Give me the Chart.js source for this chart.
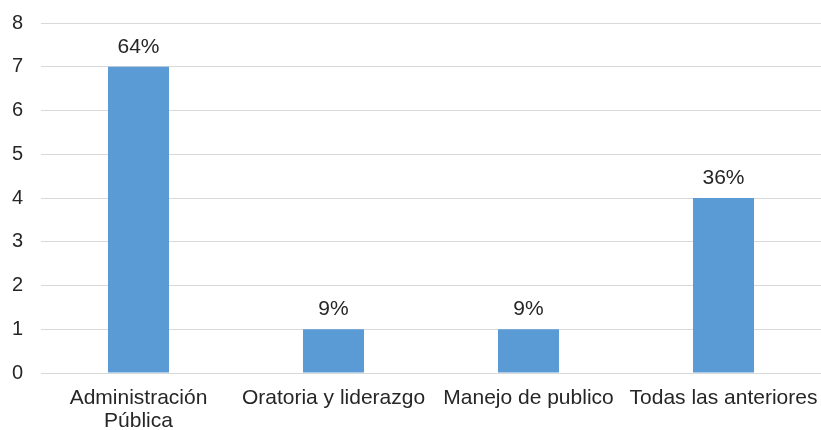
<!DOCTYPE html>
<html>
<head>
<meta charset="utf-8">
<script src="https://cdn.jsdelivr.net/npm/chart.js@4"></script>
<style>
html,body{margin:0;padding:0;background:#fff;}
#wrap{width:821px;height:430px;}
</style>
</head>
<body>
<div id="wrap"><canvas id="c" width="821" height="430"></canvas></div>
<script>
const categories = [["Administración", "Pública"], "Oratoria y liderazgo", "Manejo de publico", "Todas las anteriores"];
const values = [7, 1, 1, 4];
const percentLabels = ["64%", "9%", "9%", "36%"];
const yTicks = [0, 1, 2, 3, 4, 5, 6, 7, 8];

const FONT = "'Liberation Sans', Arial, sans-serif";
const TEXT = "#262626";

const valueLabelPlugin = {
  id: 'valueLabels',
  afterDatasetsDraw(chart) {
    const ctx = chart.ctx;
    const meta = chart.getDatasetMeta(0);
    ctx.save();
    ctx.font = "21px " + FONT;
    ctx.fillStyle = TEXT;
    ctx.textAlign = "center";
    ctx.textBaseline = "alphabetic";
    meta.data.forEach((bar, i) => {
      ctx.fillText(percentLabels[i], bar.x, bar.y - 14);
    });
    ctx.restore();
  }
};

new Chart(document.getElementById('c'), {
  type: 'bar',
  data: {
    labels: categories,
    datasets: [{
      data: values,
      backgroundColor: '#5B9BD5',
      borderWidth: 0,
      categoryPercentage: 1.0,
      barPercentage: 0.313
    }]
  },
  options: {
    responsive: false,
    animation: false,
    devicePixelRatio: 1,
    layout: { padding: { top: 23, right: 0, bottom: 0, left: 0 } },
    plugins: { legend: { display: false }, tooltip: { enabled: false } },
    scales: {
      x: {
        grid: { display: false, drawTicks: false },
        border: { display: false },
        ticks: {
          font: { size: 21, family: FONT, lineHeight: 1.1 },
          color: TEXT,
          padding: 14,
          maxRotation: 0,
          minRotation: 0,
          autoSkip: false
        },
        afterFit(axis) { axis.height = 57; axis.paddingLeft = 0; axis.paddingRight = 0; }
      },
      y: {
        min: 0,
        max: 8,
        afterBuildTicks(axis) { axis.ticks = yTicks.map(v => ({ value: v })); },
        grid: { color: '#d9d9d9', lineWidth: 1, drawTicks: false },
        border: { display: false },
        ticks: {
          font: { size: 20, family: FONT },
          color: TEXT,
          padding: 18
        },
        afterFit(axis) { axis.width = 41; axis.paddingTop = 0; axis.paddingBottom = 0; }
      }
    }
  },
  plugins: [valueLabelPlugin]
});
</script>
</body>
</html>
